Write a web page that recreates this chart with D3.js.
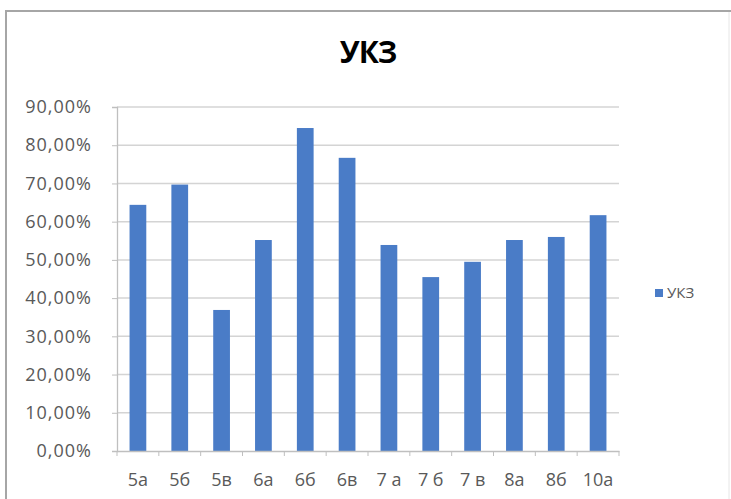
<!DOCTYPE html>
<html>
<head>
<meta charset="utf-8">
<script src="https://cdn.jsdelivr.net/npm/d3@7"></script>
<style>
  body { margin: 0; background: #fff; }
  svg text { font-family: "Open Sans", "Liberation Sans", sans-serif; }
</style>
</head>
<body>
<div id="chart"></div>
<script>
// chart data
var classes = ["5а", "5б", "5в", "6а", "6б", "6в", "7 а", "7 б", "7 в", "8а", "8б", "10а"];
var ukzValues = [0.644, 0.697, 0.369, 0.552, 0.845, 0.767, 0.539, 0.455, 0.495, 0.552, 0.560, 0.617];
var yTicks = [0, 0.1, 0.2, 0.3, 0.4, 0.5, 0.6, 0.7, 0.8, 0.9];
var seriesName = "УКЗ";

var width = 731, height = 499;
var margin = {left: 117, right: 112, top: 107, bottom: 48};

var svg = d3.select("#chart").append("svg")
  .attr("width", width)
  .attr("height", height);

// outer frame: strong top/left edges, faint right edge, bottom cut off
svg.append("rect")
  .attr("x", 6).attr("y", 11)
  .attr("width", 723).attr("height", 500)
  .attr("fill", "none")
  .attr("stroke", "#e6e6e6")
  .attr("stroke-width", 1);
svg.append("path")
  .attr("d", "M6,505 V11 H731")
  .attr("fill", "none")
  .attr("stroke", "#a6a6a6")
  .attr("stroke-width", 2);

var x = d3.scaleBand()
  .domain(classes)
  .range([margin.left, width - margin.right])
  .paddingInner(0.6)
  .paddingOuter(0.3);

var y = d3.scaleLinear()
  .domain([0, 0.9])
  .range([height - margin.bottom, margin.top]);

// gridlines
svg.append("g")
  .selectAll("line")
  .data(yTicks.slice(1))
  .enter()
  .append("line")
  .attr("x1", margin.left)
  .attr("x2", width - margin.right)
  .attr("y1", d => y(d))
  .attr("y2", d => y(d))
  .attr("stroke", "#d4d4d4")
  .attr("stroke-width", 1.5);

// y axis
var fmt = d => d3.format(".2f")(d * 100).replace(".", ",") + "%";
var yAxis = svg.append("g")
  .attr("transform", `translate(${margin.left},0)`)
  .call(d3.axisLeft(y).tickValues(yTicks).tickFormat(fmt).tickSize(5).tickPadding(20));
yAxis.select(".domain").attr("stroke", "#bfbfbf").attr("stroke-width", 1.3);
yAxis.selectAll(".tick line").attr("stroke", "#bfbfbf");
yAxis.selectAll("text")
  .attr("fill", "#595959")
  .style("font-size", "18px")
  .style("letter-spacing", "1px");

// bars
svg.append("g")
  .selectAll("rect")
  .data(ukzValues)
  .enter()
  .append("rect")
  .attr("x", (d, i) => x(classes[i]))
  .attr("y", d => y(d))
  .attr("width", x.bandwidth())
  .attr("height", d => y(0) - y(d))
  .attr("fill", "#4a7cc7");

// x axis
var xAxis = svg.append("g")
  .attr("transform", `translate(0,${height - margin.bottom})`)
  .call(d3.axisBottom(x).tickSize(0).tickPadding(22));
xAxis.select(".domain").attr("stroke", "#bfbfbf").attr("stroke-width", 1.3);
xAxis.selectAll("text")
  .attr("fill", "#595959")
  .style("font-size", "18px");

// category separator ticks
svg.append("g")
  .selectAll("line")
  .data(d3.range(classes.length + 1))
  .enter()
  .append("line")
  .attr("x1", i => margin.left + i * (width - margin.right - margin.left) / classes.length)
  .attr("x2", i => margin.left + i * (width - margin.right - margin.left) / classes.length)
  .attr("y1", height - margin.bottom)
  .attr("y2", height - margin.bottom + 5)
  .attr("stroke", "#bfbfbf");

// title
svg.append("text")
  .attr("x", 368)
  .attr("y", 63)
  .attr("text-anchor", "middle")
  .style("font-size", "30px")
  .style("font-weight", "bold")
  .style("letter-spacing", "-1px")
  .attr("fill", "#000")
  .text(seriesName);

// legend
var legend = svg.append("g").attr("transform", "translate(655,293)");
legend.append("rect")
  .attr("x", 0).attr("y", -4)
  .attr("width", 8).attr("height", 8)
  .attr("fill", "#4a7cc7");
legend.append("text")
  .attr("x", 12).attr("y", 0)
  .attr("dy", "0.35em")
  .attr("fill", "#595959")
  .style("font-size", "15px")
  .text(seriesName);
</script>
</body>
</html>
